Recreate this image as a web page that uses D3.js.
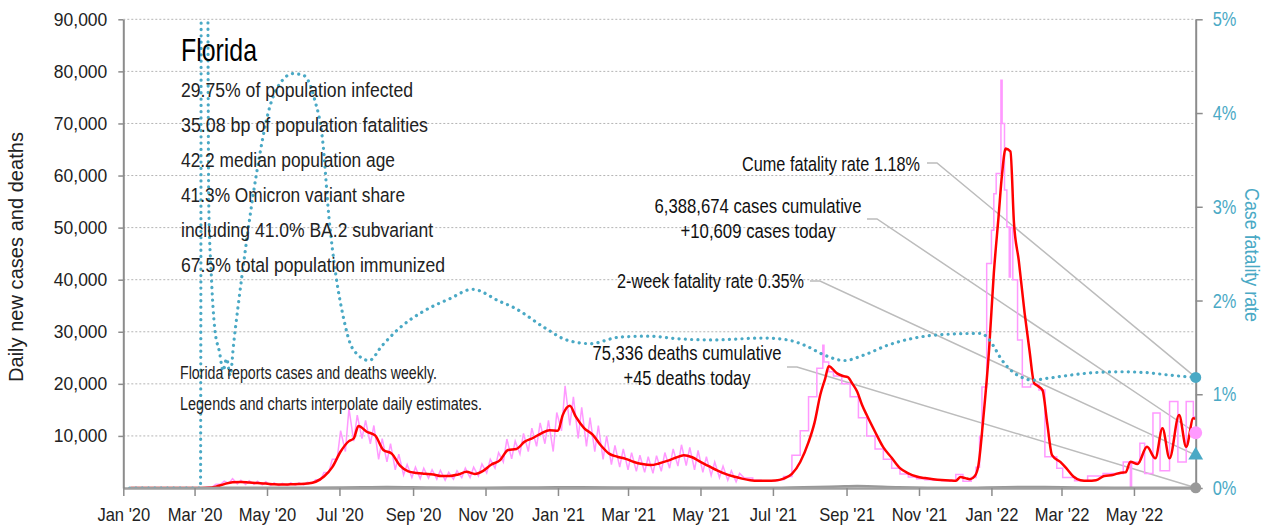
<!DOCTYPE html>
<html>
<head>
<meta charset="utf-8">
<script src="https://cdn.jsdelivr.net/npm/d3@7"></script>
<style>
body { margin: 0; background: #fff; }
svg { display: block; font-family: "Liberation Sans", Arial, sans-serif; }
</style>
</head>
<body>
<svg id="chart" width="1283" height="529"></svg>
<script>
// ---- data ----
var startDate = '2020-01-01';
var endDate = '2022-06-22';

var caseTicks = [10000, 20000, 30000, 40000, 50000, 60000, 70000, 80000, 90000];
var rateTicks = [0, 1, 2, 3, 4, 5];

// 7-day average of daily cases (red)
var avgDates = ['2020-01-07','2020-03-01','2020-03-12','2020-03-19','2020-03-26','2020-04-02','2020-04-09','2020-04-16','2020-04-23','2020-04-30',
  '2020-05-07','2020-05-14','2020-05-21','2020-05-28','2020-06-04','2020-06-11','2020-06-18','2020-06-25','2020-07-02','2020-07-09',
  '2020-07-13','2020-07-17','2020-07-24','2020-07-31','2020-08-07','2020-08-14','2020-08-21','2020-08-28','2020-09-04','2020-09-11',
  '2020-09-18','2020-09-25','2020-10-02','2020-10-09','2020-10-16','2020-10-23','2020-10-30','2020-11-06','2020-11-13','2020-11-20',
  '2020-11-27','2020-12-04','2020-12-11','2020-12-18','2020-12-25','2021-01-01','2021-01-05','2021-01-11','2021-01-16','2021-01-23',
  '2021-01-30','2021-02-06','2021-02-13','2021-02-20','2021-02-27','2021-03-06','2021-03-13','2021-03-20','2021-03-27','2021-04-03',
  '2021-04-10','2021-04-17','2021-04-24','2021-05-01','2021-05-08','2021-05-15','2021-05-22','2021-05-29','2021-06-05','2021-06-12',
  '2021-06-19','2021-06-26','2021-07-03','2021-07-10','2021-07-17','2021-07-24','2021-07-31','2021-08-05','2021-08-10','2021-08-14',
  '2021-08-17','2021-08-24','2021-08-29','2021-09-02','2021-09-06','2021-09-10','2021-09-14','2021-09-18','2021-09-25','2021-10-02',
  '2021-10-09','2021-10-16','2021-10-23','2021-10-30','2021-11-06','2021-11-13','2021-11-20','2021-11-27','2021-12-02','2021-12-06',
  '2021-12-10','2021-12-14','2021-12-18','2021-12-21','2021-12-25','2021-12-30','2022-01-03','2022-01-07','2022-01-10','2022-01-13',
  '2022-01-17','2022-01-20','2022-01-24','2022-01-29','2022-02-02','2022-02-06','2022-02-09','2022-02-13','2022-02-17','2022-02-21',
  '2022-02-28','2022-03-05','2022-03-11','2022-03-17','2022-03-23','2022-03-30','2022-04-06','2022-04-13','2022-04-20','2022-04-24',
  '2022-04-28','2022-05-04','2022-05-12','2022-05-19','2022-05-25','2022-05-31','2022-06-08','2022-06-14','2022-06-20','2022-06-22'];
var avgCases = [0, 0, 50, 250, 750, 1100, 1150, 1050, 950, 850,
  700, 650, 700, 750, 850, 1200, 2200, 4000, 7000, 9000,
  9500, 11900, 10800, 10100, 7300, 6600, 4300, 3200, 2900, 2750,
  2600, 2300, 2300, 2600, 3100, 2700, 3300, 4500, 5300, 7300,
  7500, 8900, 9600, 10500, 11100, 11000, 14000, 15800, 13700, 11500,
  10300, 8200, 6600, 6000, 5600, 5000, 4600, 4400, 4700, 5200,
  5800, 6300, 5900, 5000, 4200, 3400, 2700, 2200, 1800, 1500,
  1400, 1400, 1450, 1800, 2700, 5000, 8800, 12500, 18000, 21000,
  23400, 22000, 21500, 21300, 20000, 18500, 16000, 14000, 10800, 7800,
  5800, 3800, 2800, 2200, 1900, 1700, 1550, 1450, 1400, 2100,
  1900, 1700, 2300, 4300, 13000, 26500, 41200, 52100, 60400, 65200,
  64600, 50800, 43700, 33500, 26500, 20100, 19600, 18800, 12400, 6300,
  5000, 3800, 2200, 1500, 1400, 1500, 2300, 2500, 2950, 3000,
  5050, 4600, 7900, 5700, 11450, 5700, 14000, 7900, 13400, 13300];

// daily cases while reported daily (pink): weekly low / high, weeks starting Mondays
var dailyWeekStart = '2020-03-02';
var dailyLow = [0, 20, 200, 700, 900, 800, 700, 700, 600, 500,
  450, 500, 550, 600, 900, 1500, 3000, 5500, 7000, 9000,
  9500, 8500, 5500, 5000, 3500, 2500, 2000, 1800, 1900, 1700,
  1500, 1700, 2000, 2000, 2300, 2900, 3800, 5000, 5600, 6500,
  7000, 8000, 8500, 7000, 11000, 12000, 9500, 8000, 7000, 5500,
  4500, 4000, 3500, 3200, 3000, 2800, 3200, 3800, 4200, 4300,
  3500, 3000, 2400, 2000, 1500, 1200];
var dailyHigh = [50, 150, 700, 1300, 1800, 1500, 1400, 1300, 1200, 1000,
  900, 1000, 1000, 1100, 1600, 3000, 5500, 11000, 15300, 14000,
  13000, 12000, 9500, 8500, 6500, 4500, 4000, 3800, 3500, 3400,
  3000, 3300, 3800, 4000, 4600, 5500, 6800, 9400, 9000, 10500,
  11500, 12500, 13000, 14500, 19600, 17500, 15500, 13500, 12000, 10000,
  8200, 7500, 6800, 6300, 6000, 6200, 6800, 7500, 8300, 7800,
  7200, 6000, 5000, 4200, 3300, 2800];

// daily cases once Florida reported weekly (pink, stepped)
var stepDates = ['2021-06-07','2021-06-14','2021-06-21','2021-06-28','2021-07-05','2021-07-10','2021-07-17','2021-07-24','2021-07-31','2021-08-07',
  '2021-08-12','2021-08-13','2021-08-17','2021-08-21','2021-08-28','2021-09-04','2021-09-11','2021-09-18','2021-09-25','2021-10-02',
  '2021-10-09','2021-10-16','2021-10-23','2021-10-30','2021-11-06','2021-11-13','2021-11-20','2021-11-27','2021-12-02','2021-12-08',
  '2021-12-15','2021-12-19','2021-12-22','2021-12-24','2021-12-28','2022-01-01','2022-01-03','2022-01-05','2022-01-09','2022-01-10',
  '2022-01-12','2022-01-14','2022-01-16','2022-01-17','2022-01-19','2022-01-23','2022-01-27','2022-02-03','2022-02-10','2022-02-15',
  '2022-02-25','2022-03-02','2022-03-12','2022-03-23','2022-04-05','2022-04-22','2022-04-28','2022-04-29','2022-05-06','2022-05-10',
  '2022-05-17','2022-05-23','2022-05-31','2022-06-07','2022-06-14','2022-06-20','2022-06-22'];
var stepCases = [1900, 1500, 1400, 1400, 1600, 2200, 6300, 11000, 17500, 23000,
  27400, 24200, 22300, 21500, 20000, 17500, 13500, 10000, 7500, 5500,
  3800, 2700, 2100, 1800, 1600, 1500, 1400, 1300, 2600, 1300,
  2000, 4000, 9900, 19400, 43100, 49500, 56500, 60400, 78300, 70000,
  57200, 50100, 40500, 50000, 40000, 28400, 19400, 19900, 18800, 6000,
  3800, 2000, 1400, 2300, 2800, 5000, 200, 5000, 8600, 2800,
  14400, 3300, 16600, 5000, 16600, 13700, 10609];

// daily deaths (grey, hugging the baseline)
var deathDates = ['2020-01-07','2020-03-10','2020-04-15','2020-06-01','2020-07-20','2020-08-10','2020-09-15','2020-11-01','2020-12-15','2021-01-20',
  '2021-03-01','2021-05-01','2021-07-01','2021-08-25','2021-09-10','2021-10-15','2021-12-01','2022-01-25','2022-02-15','2022-03-15',
  '2022-05-01','2022-06-22'];
var deathAvg = [0, 0, 50, 40, 130, 180, 100, 60, 100, 160,
  100, 60, 40, 300, 380, 150, 30, 200, 180, 80,
  30, 45];

// case fatality rate, % (teal, right axis)
var cfrDates = ['2020-01-01','2020-03-06','2020-03-07','2020-03-11','2020-03-13','2020-03-15','2020-03-18','2020-03-22','2020-03-25','2020-03-28',
  '2020-03-31','2020-04-03','2020-04-10','2020-04-22','2020-05-03','2020-05-14','2020-05-23','2020-06-01','2020-06-10','2020-06-17',
  '2020-06-22','2020-06-28','2020-07-04','2020-07-12','2020-07-26','2020-08-06','2020-08-20','2020-09-09','2020-10-02','2020-10-21',
  '2020-11-13','2020-11-24','2020-12-22','2021-01-08','2021-01-28','2021-02-22','2021-03-17','2021-04-14','2021-05-12','2021-06-23',
  '2021-07-13','2021-07-30','2021-08-13','2021-08-30','2021-09-16','2021-10-05','2021-10-28','2021-11-25','2021-12-23','2021-12-29',
  '2022-01-03','2022-01-08','2022-01-17','2022-01-25','2022-02-05','2022-02-17','2022-03-06','2022-03-28','2022-04-20','2022-05-12',
  '2022-06-03','2022-06-22'];
var cfrPct = [0, 0, 9, 9, 3.0, 2.3, 1.7, 1.45, 1.25, 1.38,
  1.2, 1.55, 2.27, 3.34, 4.05, 4.35, 4.42, 4.40, 4.15, 3.69,
  2.91, 2.27, 1.84, 1.49, 1.36, 1.52, 1.70, 1.88, 2.02, 2.12,
  1.99, 1.93, 1.70, 1.58, 1.54, 1.61, 1.62, 1.59, 1.58, 1.60,
  1.58, 1.51, 1.42, 1.36, 1.42, 1.52, 1.60, 1.64, 1.65, 1.60,
  1.51, 1.40, 1.26, 1.19, 1.15, 1.17, 1.20, 1.23, 1.24, 1.23,
  1.20, 1.18];

// latest values shown by the end markers
var lastCfr = 1.18;
var lastTwoWeekCfr = 0.35;
var lastCases = 10609;
var lastDeaths = 45;

var title = 'Florida';
var statLines = ['29.75% of population infected', '35.08 bp of population fatalities', '42.2 median population age',
  '41.3% Omicron variant share', 'including 41.0% BA.2 subvariant', '67.5% total population immunized'];
var noteLines = ['Florida reports cases and deaths weekly.', 'Legends and charts interpolate daily estimates.'];

// ---- chart ----
var parse = d3.timeParse('%Y-%m-%d');
var teal = '#4aa9c5', pink = '#ff99ff', red = '#ff0000', grey = '#999999', leader = '#bcbcbc';

var plotL = 123.3, plotR = 1195.7, plotT = 19.3, plotB = 488;

var svg = d3.select('#chart');

// no narrow face installed, so squeeze glyphs to the reference widths
function squeeze(sel, k) {
  sel.each(function() {
    var w = this.getComputedTextLength();
    d3.select(this).attr('textLength', w * k).attr('lengthAdjust', 'spacingAndGlyphs');
  });
}
function fitTo(sel, w) {
  sel.attr('textLength', w).attr('lengthAdjust', 'spacingAndGlyphs');
}

var x = d3.scaleTime()
    .domain([parse(startDate), parse(endDate)])
    .range([plotL, plotR]);
var y = d3.scaleLinear().domain([0, 90000]).range([plotB, plotT]);
var yRate = d3.scaleLinear().domain([0, 5]).range([plotB, plotT]);

svg.append('defs').append('clipPath').attr('id', 'plot')
  .append('rect')
    .attr('x', plotL).attr('y', plotT)
    .attr('width', plotR - plotL).attr('height', plotB - plotT);

// grid
svg.append('g')
  .selectAll('line')
  .data(caseTicks)
  .enter()
  .append('line')
    .attr('x1', plotL).attr('x2', plotR)
    .attr('y1', function(d) { return y(d); })
    .attr('y2', function(d) { return y(d); })
    .attr('stroke', '#b4b4b4')
    .attr('stroke-width', 1)
    .attr('stroke-dasharray', '2,2');

// leader lines (drawn under the series)
var callouts = [
  { lines: ['Cume fatality rate 1.18%'], widths: [178], anchor: 'end', tx: 920, ty: 170.7, lx: 927, ly: 163, mx: x(parse(endDate)), my: yRate(lastCfr) },
  { lines: ['6,388,674 cases cumulative', '+10,609 cases today'], widths: [207, 155], anchor: 'middle', tx: 758, ty: 213.3, lx: 867, ly: 219, mx: x(parse(endDate)), my: y(lastCases) },
  { lines: ['2-week fatality rate 0.35%'], widths: [187], anchor: 'end', tx: 804, ty: 288.3, lx: 810, ly: 281, mx: x(parse(endDate)), my: yRate(lastTwoWeekCfr) },
  { lines: ['75,336 deaths cumulative', '+45 deaths today'], widths: [189, 127], anchor: 'middle', tx: 687, ty: 360, lx: 787, ly: 367, mx: x(parse(endDate)), my: y(lastDeaths) }
];

svg.append('g')
  .selectAll('path')
  .data(callouts)
  .enter()
  .append('path')
    .attr('d', function(d) {
      return 'M' + d.lx + ',' + d.ly + 'H' + (d.lx + 10) + 'L' + d.mx + ',' + d.my;
    })
    .attr('fill', 'none')
    .attr('stroke', leader)
    .attr('stroke-width', 1.5);

var series = svg.append('g').attr('clip-path', 'url(#plot)');

// pink daily cases: daily-reported period as weekly lows and highs
var noisy = [];
dailyLow.forEach(function(v, i) {
  var wk = d3.timeDay.offset(parse(dailyWeekStart), i * 7);
  noisy.push([wk, v]);
  noisy.push([d3.timeDay.offset(wk, 3), dailyHigh[i]]);
});
noisy.push([parse(stepDates[0]), stepCases[0]]);

var caseLine = d3.line()
  .x(function(d) { return x(d[0]); })
  .y(function(d) { return y(d[1]); });

series.append('path')
  .attr('d', caseLine(noisy))
  .attr('fill', 'none')
  .attr('stroke', pink)
  .attr('stroke-width', 1.5);

var stepped = stepDates.map(function(d, i) { return [parse(d), stepCases[i]]; });
series.append('path')
  .attr('d', caseLine.curve(d3.curveStepAfter)(stepped))
  .attr('fill', 'none')
  .attr('stroke', pink)
  .attr('stroke-width', 1.5);

// red 7-day average
var avg = avgDates.map(function(d, i) { return [parse(d), avgCases[i]]; });
series.append('path')
  .attr('d', d3.line()
    .x(function(d) { return x(d[0]); })
    .y(function(d) { return y(d[1]); })
    .curve(d3.curveMonotoneX)(avg))
  .attr('fill', 'none')
  .attr('stroke', red)
  .attr('stroke-width', 2.5)
  .attr('stroke-linejoin', 'round');

// grey deaths
var deaths = deathDates.map(function(d, i) { return [parse(d), deathAvg[i]]; });
series.append('path')
  .attr('d', d3.line()
    .x(function(d) { return x(d[0]); })
    .y(function(d) { return y(d[1]); })
    .curve(d3.curveMonotoneX)(deaths))
  .attr('fill', 'none')
  .attr('stroke', grey)
  .attr('stroke-width', 2.5);

// teal fatality rate, dotted
var cfr = cfrDates.map(function(d, i) { return [parse(d), cfrPct[i]]; });
series.append('path')
  .attr('d', d3.line()
    .x(function(d) { return x(d[0]); })
    .y(function(d) { return yRate(d[1]); })
    .curve(d3.curveMonotoneX)(cfr))
  .attr('fill', 'none')
  .attr('stroke', teal)
  .attr('stroke-width', 3.2)
  .attr('stroke-linecap', 'round')
  .attr('stroke-dasharray', '0.1,6.2');

// axes
var xAxis = svg.append('g')
  .attr('transform', 'translate(0,' + plotB + ')')
  .call(d3.axisBottom(x)
    .ticks(d3.timeMonth.every(2))
    .tickFormat(d3.timeFormat("%b '%y"))
    .tickSize(8)
    .tickSizeOuter(0)
    .tickPadding(12));

var yAxis = svg.append('g')
  .attr('transform', 'translate(' + plotL + ',0)')
  .call(d3.axisLeft(y)
    .tickValues(caseTicks)
    .tickFormat(d3.format(','))
    .tickSize(5)
    .tickSizeOuter(0)
    .tickPadding(11));

var rAxis = svg.append('g')
  .attr('transform', 'translate(' + plotR + ',0)')
  .call(d3.axisRight(yRate)
    .tickValues(rateTicks)
    .tickFormat(function(d) { return d + '%'; })
    .tickSize(7)
    .tickSizeOuter(0)
    .tickPadding(10));

[xAxis, yAxis, rAxis].forEach(function(g) {
  g.attr('font-family', null).attr('font-size', 18.6);
  g.select('.domain').attr('stroke', '#8c8c8c').attr('stroke-width', 2);
  g.selectAll('.tick line').attr('stroke', '#8c8c8c').attr('stroke-width', 1.5);
  g.selectAll('.tick text').attr('fill', '#222');
});
xAxis.select('.domain').attr('stroke', '#a0a0a0').attr('stroke-width', 2.5);
rAxis.attr('font-size', 20.5);
rAxis.selectAll('.tick text').attr('fill', teal);

squeeze(yAxis.selectAll('.tick text'), 0.94);
squeeze(xAxis.selectAll('.tick text'), 0.89);
squeeze(rAxis.selectAll('.tick text'), 0.8);

// axis titles
svg.append('text')
  .attr('transform', 'translate(16,257) rotate(-90)')
  .attr('text-anchor', 'middle')
  .attr('dy', '0.35em')
  .attr('font-size', 21)
  .attr('fill', '#222')
  .text('Daily new cases and deaths')
  .call(fitTo, 250);

svg.append('text')
  .attr('transform', 'translate(1252,255) rotate(90)')
  .attr('text-anchor', 'middle')
  .attr('dy', '0.35em')
  .attr('font-size', 21)
  .attr('fill', teal)
  .text('Case fatality rate')
  .call(fitTo, 134);

// end markers
var xEnd = x(parse(endDate));
svg.append('circle').attr('cx', xEnd).attr('cy', yRate(lastCfr)).attr('r', 5.5).attr('fill', teal);
svg.append('circle').attr('cx', xEnd).attr('cy', y(lastCases)).attr('r', 6.5).attr('fill', pink);
svg.append('path')
  .attr('d', d3.symbol(d3.symbolTriangle).size(95)())
  .attr('transform', 'translate(' + xEnd + ',' + yRate(lastTwoWeekCfr) + ')')
  .attr('fill', teal);
svg.append('circle').attr('cx', xEnd).attr('cy', y(lastDeaths)).attr('r', 5.5).attr('fill', grey);

// title block
svg.append('text')
  .attr('x', 181).attr('y', 61)
  .attr('font-size', 32)
  .attr('fill', '#000')
  .text(title)
  .call(fitTo, 76);

var statWidths = [232, 247, 214, 224, 252, 264];
svg.append('g')
  .selectAll('text')
  .data(statLines)
  .enter()
  .append('text')
    .attr('x', 181)
    .attr('y', function(d, i) { return 97 + i * 35; })
    .attr('font-size', 20.5)
    .attr('fill', '#222')
    .attr('textLength', function(d, i) { return statWidths[i]; })
    .attr('lengthAdjust', 'spacingAndGlyphs')
    .text(function(d) { return d; });

var noteWidths = [257, 302];
svg.append('g')
  .selectAll('text')
  .data(noteLines)
  .enter()
  .append('text')
    .attr('x', 180)
    .attr('y', function(d, i) { return 379.3 + i * 31; })
    .attr('font-size', 17.5)
    .attr('fill', '#222')
    .attr('textLength', function(d, i) { return noteWidths[i]; })
    .attr('lengthAdjust', 'spacingAndGlyphs')
    .text(function(d) { return d; });

// callout labels
callouts.forEach(function(c) {
  c.lines.forEach(function(line, i) {
    svg.append('text')
      .attr('x', c.tx)
      .attr('y', c.ty + i * 25)
      .attr('text-anchor', c.anchor)
      .attr('font-size', 20.5)
      .attr('fill', '#111')
      .attr('textLength', c.widths[i])
      .attr('lengthAdjust', 'spacingAndGlyphs')
      .text(line);
  });
});
</script>
</body>
</html>
